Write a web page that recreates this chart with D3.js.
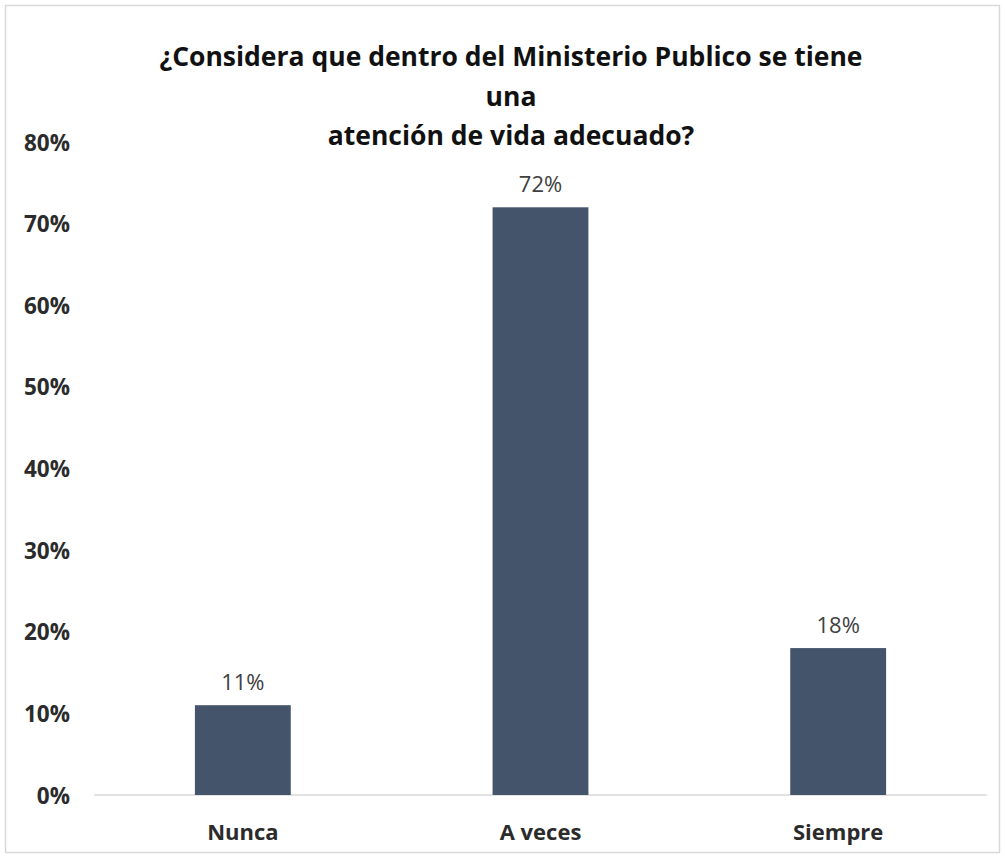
<!DOCTYPE html>
<html>
<head>
<meta charset="utf-8">
<script src="https://cdn.jsdelivr.net/npm/d3@7"></script>
<style>
  html, body { margin: 0; padding: 0; background: #fff; }
  svg { display: block; }
  text { font-family: "Open Sans", "Noto Sans", sans-serif; }
</style>
</head>
<body>
<svg id="chart" width="1005" height="856"></svg>
<script>
// Survey answers and their shares
const categories = ["Nunca", "A veces", "Siempre"];
const values = [0.11, 0.72, 0.18];
const valueLabels = ["11%", "72%", "18%"];
const yTicks = [0, 0.1, 0.2, 0.3, 0.4, 0.5, 0.6, 0.7, 0.8];
const titleLines = [
  "¿Considera que dentro del Ministerio Publico se tiene",
  "una",
  "atención de vida adecuado?"
];

const svg = d3.select("#chart");
const W = 1005, H = 856;

// outer frame
svg.append("rect")
  .attr("x", 5.5).attr("y", 5.5)
  .attr("width", W - 11).attr("height", H - 9)
  .attr("fill", "#fff").attr("stroke", "#d9d9d9").attr("stroke-width", 1.5);

const plot = { left: 94, right: 987, top: 142, bottom: 795 };

const x = d3.scaleBand()
  .domain(categories)
  .range([plot.left, plot.right])
  .paddingInner(0.678)
  .paddingOuter(0.339);

const y = d3.scaleLinear()
  .domain([0, 0.8])
  .range([plot.bottom, plot.top]);

// title
const title = svg.append("g");
titleLines.forEach((line, i) => {
  title.append("text")
    .attr("x", 511)
    .attr("y", 57 + i * 39.5)
    .attr("dy", "0.35em")
    .attr("text-anchor", "middle")
    .attr("font-size", 26.5)
    .attr("font-weight", "bold")
    .attr("fill", "#111")
    .text(line);
});

// y axis labels
const yAxis = d3.axisLeft(y)
  .tickValues(yTicks)
  .tickFormat(d3.format(".0%"))
  .tickSize(0)
  .tickPadding(0);
const yg = svg.append("g")
  .attr("transform", `translate(70,0)`)
  .call(yAxis);
yg.select(".domain").remove();
yg.selectAll("text")
  .attr("dy", "0.36em")
  .attr("font-size", 22.5)
  .attr("font-weight", "bold")
  .attr("fill", "#2b2b2b")
  .style("font-family", "'Open Sans', sans-serif");

// baseline
svg.append("line")
  .attr("x1", plot.left).attr("x2", plot.right)
  .attr("y1", y(0)).attr("y2", y(0))
  .attr("stroke", "#d9d9d9").attr("stroke-width", 1.5);

// bars
svg.append("g").selectAll("rect")
  .data(categories)
  .join("rect")
  .attr("x", d => x(d))
  .attr("width", x.bandwidth())
  .attr("y", (d, i) => y(values[i]))
  .attr("height", (d, i) => y(0) - y(values[i]))
  .attr("fill", "#44546a");

// value labels
svg.append("g").selectAll("text")
  .data(categories)
  .join("text")
  .attr("x", d => x(d) + x.bandwidth() / 2)
  .attr("y", (d, i) => y(values[i]) - 23)
  .attr("dy", "0.36em")
  .attr("text-anchor", "middle")
  .attr("font-size", 22)
  .attr("fill", "#404040")
  .text((d, i) => valueLabels[i]);

// category labels
const xAxis = d3.axisBottom(x).tickSize(0).tickPadding(0);
const xg = svg.append("g")
  .attr("transform", `translate(0,${plot.bottom})`)
  .call(xAxis);
xg.select(".domain").remove();
xg.selectAll("text")
  .attr("y", 37)
  .attr("dy", "0.36em")
  .attr("font-size", 22)
  .attr("font-weight", "bold")
  .attr("fill", "#2b2b2b")
  .style("font-family", "'Open Sans', sans-serif");
</script>
</body>
</html>
